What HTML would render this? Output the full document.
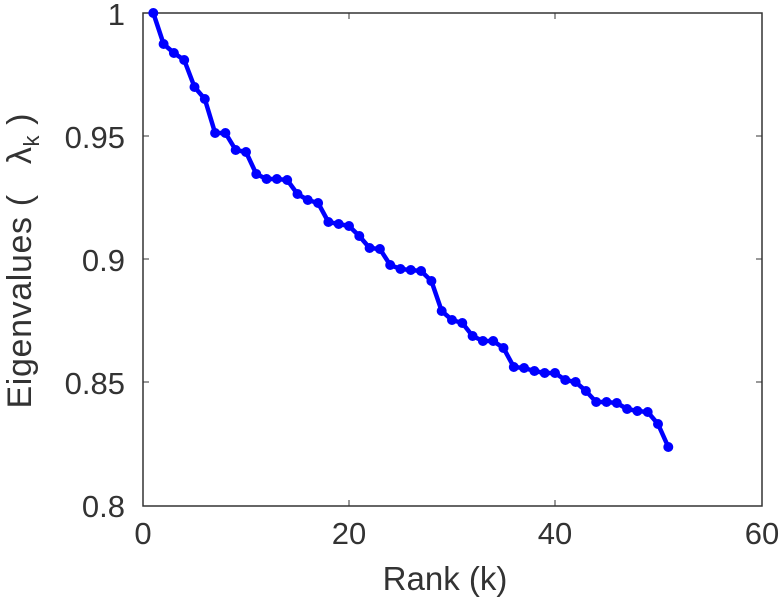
<!DOCTYPE html>
<html><head><style>body{margin:0;background:#fff}svg{display:block}text{font-family:"Liberation Sans",sans-serif;fill:#333}</style></head>
<body>
<svg width="782" height="600" viewBox="0 0 782 600">
<rect x="143" y="13" width="619" height="493" fill="#fff" stroke="#333" stroke-width="1.5"/>
<g stroke="#333" stroke-width="1">
<line x1="349" y1="506" x2="349" y2="500"/><line x1="555" y1="506" x2="555" y2="500"/>
<line x1="349" y1="13" x2="349" y2="19"/><line x1="555" y1="13" x2="555" y2="19"/>
<line x1="143" y1="136" x2="149" y2="136"/><line x1="143" y1="259" x2="149" y2="259"/><line x1="143" y1="382" x2="149" y2="382"/>
<line x1="762" y1="136" x2="756" y2="136"/><line x1="762" y1="259" x2="756" y2="259"/><line x1="762" y1="382" x2="756" y2="382"/>
</g>
<g font-size="31" text-anchor="middle">
<text x="143" y="544">0</text><text x="349" y="544">20</text><text x="555" y="544">40</text><text x="762" y="544">60</text>
</g>
<g font-size="31" text-anchor="end">
<text x="125" y="25">1</text><text x="125" y="148">0.95</text><text x="125" y="271">0.9</text><text x="125" y="394">0.85</text><text x="125" y="517">0.8</text>
</g>
<text x="445" y="590" font-size="33" text-anchor="middle">Rank (k)</text>
<text transform="translate(31,261) rotate(-90)" font-size="34" text-anchor="middle" textLength="295">Eigenvalues (&#160;&#160;&#160;λ<tspan font-size="22" dy="8">k</tspan><tspan dy="-8">&#160;)</tspan></text>
<g id="s"></g>
</svg>
<script>
var ys=[13,44,53,60,87,99,133,133,150,152,174,179,179,180,194,200,203,222,224,226,236,248,249,265,269,270,271,281,311,320,323,336,341,341,348,367,368,371,373,373,380,382,391,402,402,403,409,411,412,424,447];
var pts=ys.map(function(y,i){return [143+(i+1)*10.3,y]});
var s='<polyline fill="none" stroke="#0000ff" stroke-width="4.5" stroke-linejoin="round" points="'+pts.map(function(p){return p.join(',')}).join(' ')+'"/>';
pts.forEach(function(p){s+='<circle cx="'+p[0]+'" cy="'+p[1]+'" r="5" fill="#0000ff"/>'});
document.getElementById('s').innerHTML=s;
</script>
</body></html>
